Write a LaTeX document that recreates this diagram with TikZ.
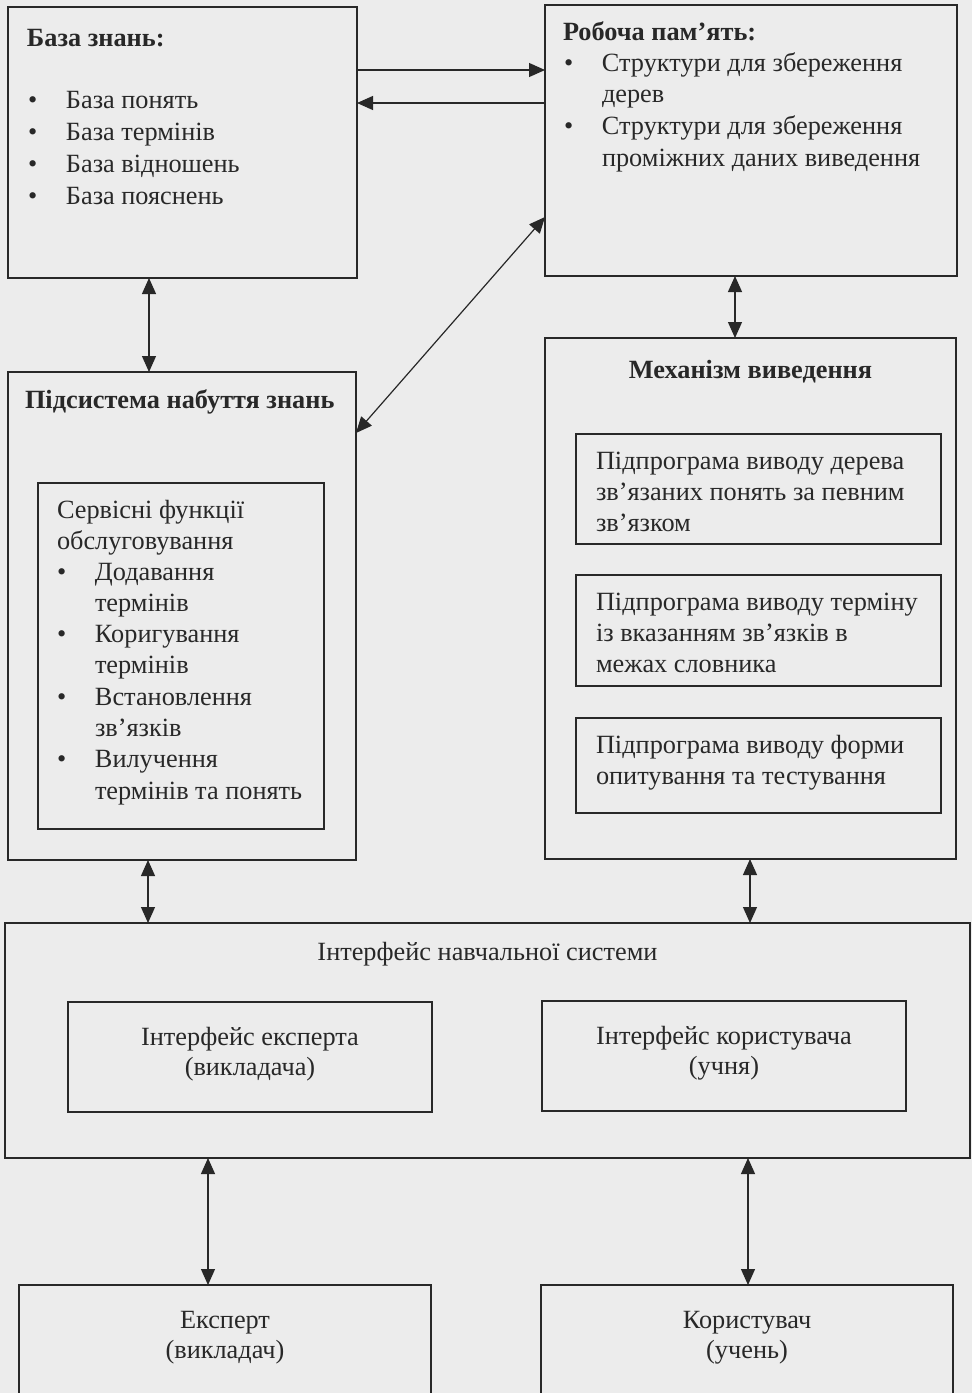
\documentclass[tikz,border=0pt]{standalone}
\usepackage{fontspec}
\setmainfont{Liberation Serif}
\usetikzlibrary{arrows.meta}
\definecolor{ink}{RGB}{40,40,40}
\definecolor{paper}{RGB}{236,236,236}
\newcommand\myb[1]{\makebox[38pt][l]{•}#1}
\begin{document}
\begin{tikzpicture}[x=1pt,y=-1pt,
  box/.style={draw=ink, line width=1.4pt, inner sep=0pt, outer sep=0pt, rectangle},
  txt/.style={inner sep=0pt, outer sep=0pt, text=ink, font=\fontsize{26.3}{31.5}\selectfont, align=left, anchor=base west},
  ctxt/.style={txt, align=center, anchor=base},
  tip/.tip={Triangle[length=16pt,width=14pt]},
  link/.style={draw=ink, line width=1.2pt, -tip},
  dlink/.style={draw=ink, line width=1.2pt, tip-tip},
]
\useasboundingbox (0,0) rectangle (972,1393);
\clip (0,0) rectangle (972,1393);
\fill[paper] (0,0) rectangle (972,1393);

% boxes
\node[box, minimum width=349pt, minimum height=271pt] (bz) at (182.5,142.5) {};
\node[box, minimum width=412pt, minimum height=271pt] (rp) at (751,140.5) {};
\node[box, minimum width=348pt, minimum height=488pt] (ps) at (182,616) {};
\node[box, minimum width=286pt, minimum height=346pt] (sf) at (181,656) {};
\node[box, minimum width=411pt, minimum height=521pt] (mv) at (750.5,598.5) {};
\node[box, minimum width=365pt, minimum height=110pt] (p1) at (758.5,489) {};
\node[box, minimum width=365pt, minimum height=111pt] (p2) at (758.5,630.5) {};
\node[box, minimum width=365pt, minimum height=95pt] (p3) at (758.5,765.5) {};
\node[box, minimum width=965pt, minimum height=235pt] (ins) at (487.5,1040.5) {};
\node[box, minimum width=364pt, minimum height=110pt] (ie) at (250,1057) {};
\node[box, minimum width=364pt, minimum height=110pt] (iu) at (724,1056) {};
\node[box, minimum width=412pt, minimum height=135pt] (ex) at (225,1352.5) {};
\node[box, minimum width=412pt, minimum height=135pt] (us) at (747,1352.5) {};

% texts (multi-line nodes: base anchor = baseline of the last line)
\node[txt] (bzt) at (27,46) {\textbf{База знань:}};
\node[txt, font=\fontsize{26.3}{32.3}\selectfont] (bzl) at (28,204.9) {\myb{База понять}\\\myb{База термінів}\\\myb{База відношень}\\\myb{База пояснень}};
\node[txt] (rpt) at (563,40) {\textbf{Робоча пам’ять:}};
\node[txt, font=\fontsize{26.3}{31.7}\selectfont] (rpl) at (564,166.1) {\myb{Структури для збереження}\\\hspace*{38pt}дерев\\\myb{Структури для збереження}\\\hspace*{38pt}проміжних даних виведення};
\node[txt] (pst) at (25,408) {\textbf{Підсистема набуття знань}};
\node[txt, font=\fontsize{26.3}{31.3}\selectfont] (sft) at (57,549.3) {Сервісні функції\\обслуговування};
\node[txt, font=\fontsize{26.3}{31.3}\selectfont] (sfl) at (57,799.1) {\myb{Додавання}\\\hspace*{38pt}термінів\\\myb{Коригування}\\\hspace*{38pt}термінів\\\myb{Встановлення}\\\hspace*{38pt}зв’язків\\\myb{Вилучення}\\\hspace*{38pt}термінів та понять};
\node[ctxt] (mvt) at (750.5,378) {\textbf{Механізм виведення}};
\node[txt, font=\fontsize{26.3}{31}\selectfont] (p1t) at (596,531) {Підпрограма виводу дерева\\зв’язаних понять за певним\\зв’язком};
\node[txt, font=\fontsize{26.3}{31}\selectfont] (p2t) at (596,672) {Підпрограма виводу терміну\\із вказанням зв’язків в\\межах словника};
\node[txt, font=\fontsize{26.3}{31}\selectfont] (p3t) at (596,784) {Підпрограма виводу форми\\опитування та тестування};
\node[ctxt] (inst) at (487.5,960) {Інтерфейс навчальної системи};
\node[ctxt, font=\fontsize{26.3}{30.5}\selectfont] (iet) at (250,1075.5) {Інтерфейс експерта\\(викладача)};
\node[ctxt, font=\fontsize{26.3}{30.5}\selectfont] (iut) at (724,1074.5) {Інтерфейс користувача\\(учня)};
\node[ctxt, font=\fontsize{26.3}{30.5}\selectfont] (ext) at (225,1358.5) {Експерт\\(викладач)};
\node[ctxt, font=\fontsize{26.3}{30.5}\selectfont] (ust) at (747,1358.5) {Користувач\\(учень)};

% connectors
\draw[link] (bz.east |- 0,70) -- (rp.west |- 0,70);
\draw[link] (rp.west |- 0,103) -- (bz.east |- 0,103);
\draw[dlink] (149,0 |- bz.south) -- (149,0 |- ps.north);
\draw[dlink] (ps.east |- 0,433) -- (rp.west |- 0,217);
\draw[dlink] (735,0 |- rp.south) -- (735,0 |- mv.north);
\draw[dlink] (148,0 |- ps.south) -- (148,0 |- ins.north);
\draw[dlink] (750,0 |- mv.south) -- (750,0 |- ins.north);
\draw[dlink] (208,0 |- ins.south) -- (208,0 |- ex.north);
\draw[dlink] (748,0 |- ins.south) -- (748,0 |- us.north);
\end{tikzpicture}
\end{document}
